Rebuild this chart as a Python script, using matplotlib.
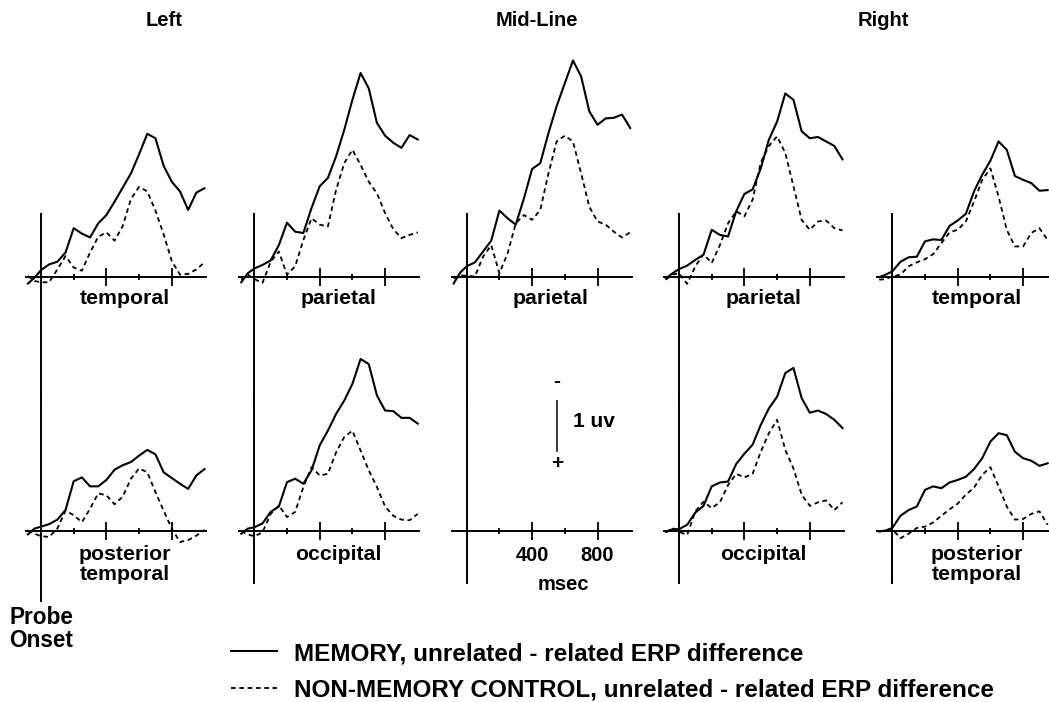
import matplotlib.pyplot as plt

plt.rcParams['font.family'] = ['Liberation Sans', 'DejaVu Sans']
plt.rcParams['font.weight'] = 'bold'

# time points (msec) at which the waveforms were read
times = [-80, -40, 0, 50, 100, 150, 200, 250, 300, 350, 400, 450, 500,
         550, 600, 650, 700, 750, 800, 850, 900, 950, 1000]

# amplitudes in uv, negative plotted up
left_temp_mem = [0.11, 0.02, -0.10, -0.19, -0.23, -0.375, -0.755, -0.67, -0.61, -0.83, -0.96, -1.17,
                 -1.39, -1.61, -1.91, -2.23, -2.16, -1.73, -1.48, -1.33, -1.04, -1.31, -1.38]
left_temp_ctl = [-0.01, 0.07, 0.09, 0.09, -0.11, -0.32, -0.14, -0.09, -0.375, -0.62, -0.69, -0.56,
                 -0.79, -1.21, -1.40, -1.33, -1.03, -0.66, -0.24, -0.03, -0.04, -0.11, -0.22]
left_ptemp_mem = [0.06, -0.03, -0.06, -0.10, -0.17, -0.32, -0.77, -0.83, -0.69, -0.69, -0.79, -0.95,
                  -1.02, -1.07, -1.17, -1.26, -1.19, -0.91, -0.82, -0.73, -0.65, -0.86, -0.96]
left_ptemp_ctl = [0.0, 0.05, 0.09, 0.10, -0.03, -0.31, -0.24, -0.13, -0.34, -0.58, -0.55, -0.41,
                  -0.53, -0.81, -0.97, -0.91, -0.60, -0.31, -0.03, 0.18, 0.15, 0.08, -0.01]
left_par_mem = [0.09, -0.05, -0.125, -0.18, -0.25, -0.49, -0.84, -0.70, -0.68, -1.07, -1.41, -1.54,
                -1.875, -2.29, -2.76, -3.18, -2.94, -2.40, -2.20, -2.09, -2.01, -2.21, -2.14]
left_par_ctl = [0.05, -0.03, 0.04, 0.10, -0.23, -0.39, -0.03, -0.16, -0.57, -0.91, -0.81, -0.78,
                -1.35, -1.77, -1.98, -1.745, -1.48, -1.30, -0.99, -0.74, -0.60, -0.65, -0.69]
left_occ_mem = [0.05, -0.03, -0.05, -0.11, -0.29, -0.375, -0.755, -0.81, -0.73, -0.94, -1.33, -1.56,
                -1.82, -2.03, -2.29, -2.68, -2.60, -2.11, -1.875, -1.865, -1.76, -1.76, -1.67]
left_occ_ctl = [0.01, 0.06, 0.09, 0.03, -0.26, -0.39, -0.21, -0.29, -0.68, -0.99, -0.86, -0.885,
                -1.22, -1.46, -1.56, -1.25, -0.94, -0.68, -0.375, -0.23, -0.17, -0.16, -0.26]
mid_par_mem = [0.11, -0.06, -0.16, -0.22, -0.39, -0.56, -1.03, -0.91, -0.81, -1.22, -1.68, -1.77,
               -2.24, -2.66, -3.02, -3.375, -3.125, -2.58, -2.37, -2.47, -2.48, -2.53, -2.32]
mid_par_ctl = [0.03, -0.02, -0.01, 0.0, -0.31, -0.49, -0.05, -0.36, -0.83, -0.96, -0.885, -1.04,
               -1.61, -2.11, -2.20, -2.11, -1.61, -1.09, -0.86, -0.81, -0.70, -0.61, -0.69]
right_par_mem = [0.03, -0.05, -0.115, -0.17, -0.26, -0.34, -0.73, -0.65, -0.625, -1.02, -1.29, -1.36,
                 -1.69, -2.14, -2.42, -2.86, -2.76, -2.27, -2.16, -2.18, -2.11, -2.04, -1.83]
right_par_ctl = [0.05, -0.03, -0.05, 0.115, -0.16, -0.35, -0.21, -0.49, -0.83, -1.02, -0.94, -1.20,
                 -1.78, -2.04, -2.19, -1.93, -1.41, -0.885, -0.73, -0.86, -0.875, -0.755, -0.72]
right_occ_mem = [0.02, -0.02, -0.02, -0.09, -0.28, -0.385, -0.69, -0.75, -0.765, -1.04, -1.20, -1.34,
                 -1.65, -1.91, -2.09, -2.46, -2.54, -2.07, -1.84, -1.875, -1.82, -1.73, -1.60]
right_occ_ctl = [0.03, -0.04, 0.02, 0.07, -0.30, -0.45, -0.35, -0.44, -0.71, -0.885, -0.83, -0.885,
                 -1.23, -1.52, -1.73, -1.26, -0.97, -0.56, -0.385, -0.44, -0.47, -0.32, -0.44]
# right column is cut by the page edge, values read up to 950 msec
right_temp_mem = [0.01, -0.03, -0.08, -0.23, -0.30, -0.31, -0.55, -0.58, -0.57, -0.79, -0.875, -0.98,
                  -1.33, -1.59, -1.81, -2.11, -1.98, -1.57, -1.51, -1.46, -1.34, -1.35]
right_temp_ctl = [0.05, 0.04, 0.0, -0.03, -0.16, -0.22, -0.27, -0.35, -0.52, -0.69, -0.73, -0.86,
                  -1.17, -1.51, -1.69, -1.25, -0.73, -0.47, -0.47, -0.68, -0.755, -0.57]
right_ptemp_mem = [0.015, 0.0, -0.04, -0.23, -0.32, -0.375, -0.635, -0.69, -0.66, -0.75, -0.79, -0.84,
                   -0.96, -1.13, -1.39, -1.52, -1.49, -1.23, -1.13, -1.09, -1.01, -1.05]
right_ptemp_ctl = [0.015, 0.0, -0.02, 0.12, 0.05, -0.04, -0.06, -0.125, -0.23, -0.33, -0.42, -0.56,
                   -0.67, -0.87, -0.99, -0.69, -0.375, -0.17, -0.18, -0.26, -0.30, -0.09]

col_titles = ['Left', 'Mid-Line', 'Right']
legend_labels = ['MEMORY, unrelated - related ERP difference',
                 'NON-MEMORY CONTROL, unrelated - related ERP difference']

W, H = 1049, 702
PX_MS = 0.1635   # pixels per msec
PX_UV = 64.0     # pixels per uv
XMIN, XMAX = -92, 1008
zeros = [41, 254.3, 466.7, 679, 892.3]
TOP = dict(base=276.5, top=30, bot=400)
BOT = dict(base=530.5, top=400, bot=620)

solid = dict(color='black', lw=1.5, clip_on=False, solid_joinstyle='round')
dashed = dict(color='black', lw=1.3, ls=(0, (2.6, 2.0)), clip_on=False)

fig = plt.figure(figsize=(W / 100, H / 100), dpi=100)


def make_panel(col, row, onset_lo, onset_hi, dotted=False):
    zero = zeros[col]
    left = zero + XMIN * PX_MS
    width = (XMAX - XMIN) * PX_MS
    ax = fig.add_axes([left / W, 1 - row['bot'] / H, width / W, (row['bot'] - row['top']) / H])
    ax.set_xlim(XMIN, XMAX)
    ax.set_ylim((row['bot'] - row['base']) / PX_UV, -(row['base'] - row['top']) / PX_UV)
    ax.patch.set_alpha(0)
    for s in ['top', 'right']:
        ax.spines[s].set_visible(False)
    ax.spines['bottom'].set_position(('data', 0))
    ax.spines['bottom'].set_linewidth(1.4)
    ax.spines['left'].set_position(('data', 0))
    ax.spines['left'].set_linewidth(1.4)
    ax.spines['left'].set_bounds(onset_lo, onset_hi)
    if dotted:
        ax.spines['left'].set_linestyle((0, (1, 0.7)))
    ax.set_yticks([])
    ax.set_xticks([400, 800])
    ax.set_xticks([200, 600], minor=True)
    ax.tick_params(axis='x', which='major', direction='inout', length=13, width=1.3, labelbottom=False)
    ax.tick_params(axis='x', which='minor', direction='inout', length=5, width=1.3)
    return ax


def draw(ax, mem, ctl, label, label_y):
    ax.plot(times[:len(mem)], mem, **solid)
    ax.plot(times[:len(ctl)], ctl, **dashed)
    ax.text(515, label_y, label, ha='center', va='top', fontsize=15.3, linespacing=1.08)


ylab_top = 0.20
ylab_bot = 0.22

ax = make_panel(0, TOP, -0.97, 1.93)
draw(ax, left_temp_mem, left_temp_ctl, 'temporal', ylab_top)
ax = make_panel(0, BOT, -2.1, 1.10)
draw(ax, left_ptemp_mem, left_ptemp_ctl, 'posterior\ntemporal', ylab_bot)
ax.text(0, 1.18, 'Probe\nOnset', ha='center', va='top', fontsize=16.3, linespacing=1.0)

ax = make_panel(1, TOP, -0.97, 1.93)
mem_line = ax.plot(times, left_par_mem, **solid)[0]
ctl_line = ax.plot(times, left_par_ctl, **dashed)[0]
ax.text(515, ylab_top, 'parietal', ha='center', va='top', fontsize=15.3)
ax = make_panel(1, BOT, -2.1, 0.82)
draw(ax, left_occ_mem, left_occ_ctl, 'occipital', ylab_bot)

ax = make_panel(2, TOP, -0.97, 1.93)
draw(ax, mid_par_mem, mid_par_ctl, 'parietal', ylab_top)
ax = make_panel(2, BOT, -2.1, 0.82)
ax.tick_params(axis='x', which='major', labelbottom=True, labelsize=14.5, pad=4.5)
ax.set_xticklabels(['400', '800'])
ax.text(590, 0.70, 'msec', ha='center', va='top', fontsize=14.5)
# 1 uv calibration bar
ax.plot([552, 552], [-2.24, -1.24], color='black', lw=1.1)
ax.text(552, -2.33, '-', ha='center', va='center', fontsize=15)
ax.text(552, -1.20, '+', ha='center', va='top', fontsize=15)
ax.text(650, -1.70, '1 uv', ha='left', va='center', fontsize=15)

ax = make_panel(3, TOP, -0.97, 1.93)
draw(ax, right_par_mem, right_par_ctl, 'parietal', ylab_top)
ax = make_panel(3, BOT, -2.1, 0.82)
draw(ax, right_occ_mem, right_occ_ctl, 'occipital', ylab_bot)

ax = make_panel(4, TOP, -0.97, 1.93, dotted=True)
draw(ax, right_temp_mem, right_temp_ctl, 'temporal', ylab_top)
ax = make_panel(4, BOT, -2.1, 0.82, dotted=True)
draw(ax, right_ptemp_mem, right_ptemp_ctl, 'posterior\ntemporal', ylab_bot)

for t, xp in zip(col_titles, [164, 537, 883]):
    fig.text(xp / W, 1 - 21 / H, t, ha='center', va='center', fontsize=14.5)

fig.legend([mem_line, ctl_line], legend_labels, loc='upper left',
           bbox_to_anchor=(231 / W, 1 - 642 / H), frameon=False, fontsize=17.5,
           handlelength=1.9, handletextpad=0.7, labelspacing=0.56,
           borderpad=0, borderaxespad=0)

fig.savefig('out.png', dpi=100)
